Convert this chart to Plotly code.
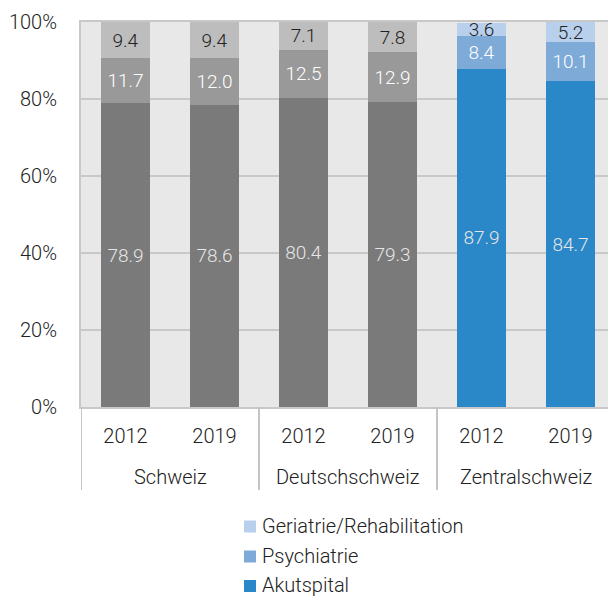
import plotly.graph_objects as go

regions = ["Schweiz", "Deutschschweiz", "Zentralschweiz"]
years = ["2012", "2019", "2012", "2019", "2012", "2019"]
bar_region = [0, 0, 1, 1, 2, 2]
akut = [78.9, 78.6, 80.4, 79.3, 87.9, 84.7]
psych = [11.7, 12.0, 12.5, 12.9, 8.4, 10.1]
geri = [9.4, 9.4, 7.1, 7.8, 3.6, 5.2]
series_names = ["Akutspital", "Psychiatrie", "Geriatrie/Rehabilitation"]
y_ticks = [0, 20, 40, 60, 80, 100]

grey_cols = ["#7a7a7a", "#999999", "#bdbdbd"]
blue_cols = ["#2b88c8", "#7eaad8", "#b8d0ec"]
text_cols = ["#e6e6e6", "#ffffff", "#222222"]

FONT = "Roboto"
FS = 20
OFF = 8  # page body margin
W, H = 616 - OFF, 597 - OFF
# plot area in reference pixels: left 81, right 615, top 22, bottom 407
ML = 81 - OFF
MT = 22 - OFF
MR = W - (615 - OFF)
MB = H - (407 - OFF)
PW, PH = W - ML - MR, H - MT - MB

def px_x(p):
    return (p - OFF - ML) / PW

def px_y(p):
    return (H - MB - (p - OFF)) / PH

txt_font = dict(family=FONT, size=FS, color="#222222", weight=300)

fig = go.Figure()
positions = list(range(len(years)))
grey_idx = [i for i in positions if bar_region[i] < 2]
blue_idx = [i for i in positions if bar_region[i] == 2]
for s, vals in enumerate([akut, psych, geri]):
    for idxs, cols in [(grey_idx, grey_cols), (blue_idx, blue_cols)]:
        fig.add_trace(go.Bar(
            x=idxs,
            y=[vals[i] for i in idxs],
            name=series_names[s],
            showlegend=False,
            marker=dict(color=cols[s], line=dict(width=0)),
            text=[f"{vals[i]:.1f}" for i in idxs],
            textposition="inside",
            insidetextanchor="middle",
            constraintext="none",
            textangle=0,
            textfont=dict(family=FONT, size=19, color=text_cols[s], weight=300),
            hoverinfo="skip",
        ))

# group labels and dividers
for g, name in enumerate(regions):
    members = [i for i in positions if bar_region[i] == g]
    fig.add_annotation(
        x=sum(members) / len(members), xref="x", y=px_y(477), yref="paper",
        text=name, showarrow=False, yanchor="middle", font=txt_font,
    )
    fig.add_shape(
        type="line", xref="x", yref="paper",
        x0=min(members) - 0.5, x1=min(members) - 0.5, y0=0, y1=px_y(490),
        line=dict(color="#c4c4c4", width=2),
    )

# custom legend (top to bottom: Geriatrie, Psychiatrie, Akutspital)
legend_rows = [525.5, 555.5, 585]
for row_y, s in zip(legend_rows, [2, 1, 0]):
    fig.add_shape(
        type="rect", xref="paper", yref="paper",
        x0=px_x(244), x1=px_x(256), y0=px_y(row_y - 6 + 1), y1=px_y(row_y + 6 + 1),
        fillcolor=blue_cols[s], line=dict(width=0),
    )
    fig.add_annotation(
        x=px_x(261), xref="paper", y=px_y(row_y), yref="paper",
        text=series_names[s], showarrow=False, xanchor="left", yanchor="middle",
        font=txt_font, borderpad=0,
    )

fig.update_layout(
    width=W, height=H,
    barmode="stack",
    bargap=0.44,
    showlegend=False,
    paper_bgcolor="white",
    plot_bgcolor="#e8e8e8",
    margin=dict(l=ML, r=MR, t=MT, b=MB, autoexpand=False),
    font=txt_font,
)
fig.update_yaxes(
    range=[0, 100.05], tickmode="array", tickvals=y_ticks,
    ticktext=[f"{v}%" for v in y_ticks],
    showgrid=True, gridcolor="#c8c8c8", gridwidth=2,
    showline=True, linecolor="#c8c8c8", linewidth=2, mirror=True,
    ticks="", zeroline=False, automargin=False, ticklabelstandoff=18,
    tickfont=txt_font,
)
fig.update_xaxes(
    range=[-0.5, len(years) - 0.5], tickmode="array", tickvals=positions, ticktext=years,
    showline=True, linecolor="#c8c8c8", linewidth=2, mirror=True,
    ticks="", showgrid=False, zeroline=False, automargin=False, ticklabelstandoff=10,
    tickfont=txt_font,
)

fig.write_html("out.html")
